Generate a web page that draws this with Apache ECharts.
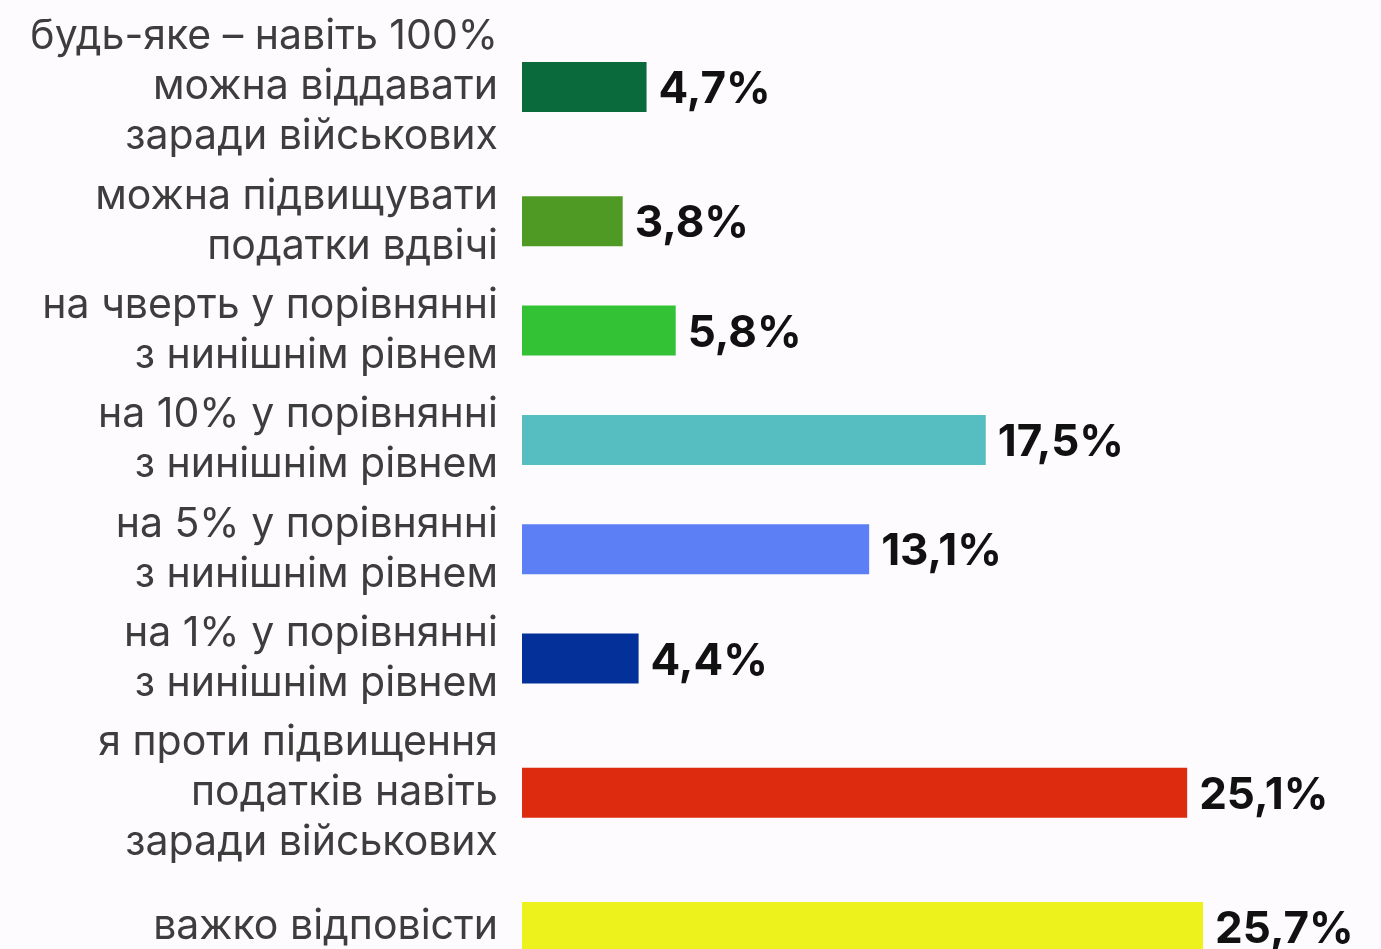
<!DOCTYPE html>
<html>
<head>
<meta charset="utf-8">
<script src="https://cdn.jsdelivr.net/npm/echarts@6/dist/echarts.min.js"></script>
<style>
html,body{margin:0;padding:0;background:#fdfbfd;}
#chart{width:1381px;height:949px;}
</style>
</head>
<body>
<div id="chart"></div>
<script>
const categories = [
  "будь-яке – навіть 100%\nможна віддавати\nзаради військових",
  "можна підвищувати\nподатки вдвічі",
  "на чверть у порівнянні\nз нинішнім рівнем",
  "на 10% у порівнянні\nз нинішнім рівнем",
  "на 5% у порівнянні\nз нинішнім рівнем",
  "на 1% у порівнянні\nз нинішнім рівнем",
  "я проти підвищення\nподатків навіть\nзаради військових",
  "важко відповісти"
];
const values = [4.7, 3.8, 5.8, 17.5, 13.1, 4.4, 25.1, 25.7];
const colors = ["#0a6a3b", "#4f9a24", "#33c235", "#56bec1", "#5c7ff6", "#04309a", "#dc2b0e", "#edf21c"];

// Row layout: each row is sized by its label's line count (in 5px slot units)
const lineCounts = categories.map(c => c.split("\n").length);
const rowUnits = lineCounts.map(n => Math.max(n, 2) * 10 + 2);
const pos = [0];
for (let i = 1; i < categories.length; i++) {
  pos.push(pos[i - 1] + (rowUnits[i - 1] + rowUnits[i]) / 2);
}
const N = pos[pos.length - 1] + 1;
const slotNames = [], slotData = [], labelAt = {};
for (let k = 0; k < N; k++) { slotNames.push("s" + k); slotData.push("-"); }
pos.forEach((p, i) => {
  labelAt[p] = categories[i];
  slotData[p] = { value: values[i], itemStyle: { color: colors[i] } };
});

const firstCenter = 87, lastCenter = 927;
const slotH = (lastCenter - firstCenter) / (N - 1);
const gridTop = firstCenter - slotH / 2;
const gridHeight = slotH * N;

const chart = echarts.init(document.getElementById("chart"));
chart.setOption({
  backgroundColor: "#fdfbfd",
  animation: false,
  grid: { left: 522, right: 64, top: gridTop, height: gridHeight, containLabel: false, outerBoundsMode: "none" },
  xAxis: { type: "value", min: 0, max: 30, show: false },
  yAxis: {
    type: "category",
    inverse: true,
    data: slotNames,
    axisLine: { show: false },
    axisTick: { show: false },
    splitLine: { show: false },
    axisLabel: {
      interval: (index) => labelAt[index] != null,
      formatter: (v, index) => labelAt[index] || "",
      margin: 24,
      fontFamily: "Inter",
      fontSize: 41,
      lineHeight: 50,
      color: "#3d3d3d",
      align: "right",
      padding: [6, 0, 0, 0]
    }
  },
  series: [{
    type: "bar",
    data: slotData,
    barWidth: 50,
    clip: false,
    label: {
      show: true,
      position: "right",
      distance: 12,
      offset: [0, 3],
      fontFamily: "Inter",
      fontWeight: "bold",
      fontSize: 44,
      color: "#111111",
      formatter: (p) => String(p.value).replace(".", ",") + "%"
    }
  }]
});
</script>
</body>
</html>
